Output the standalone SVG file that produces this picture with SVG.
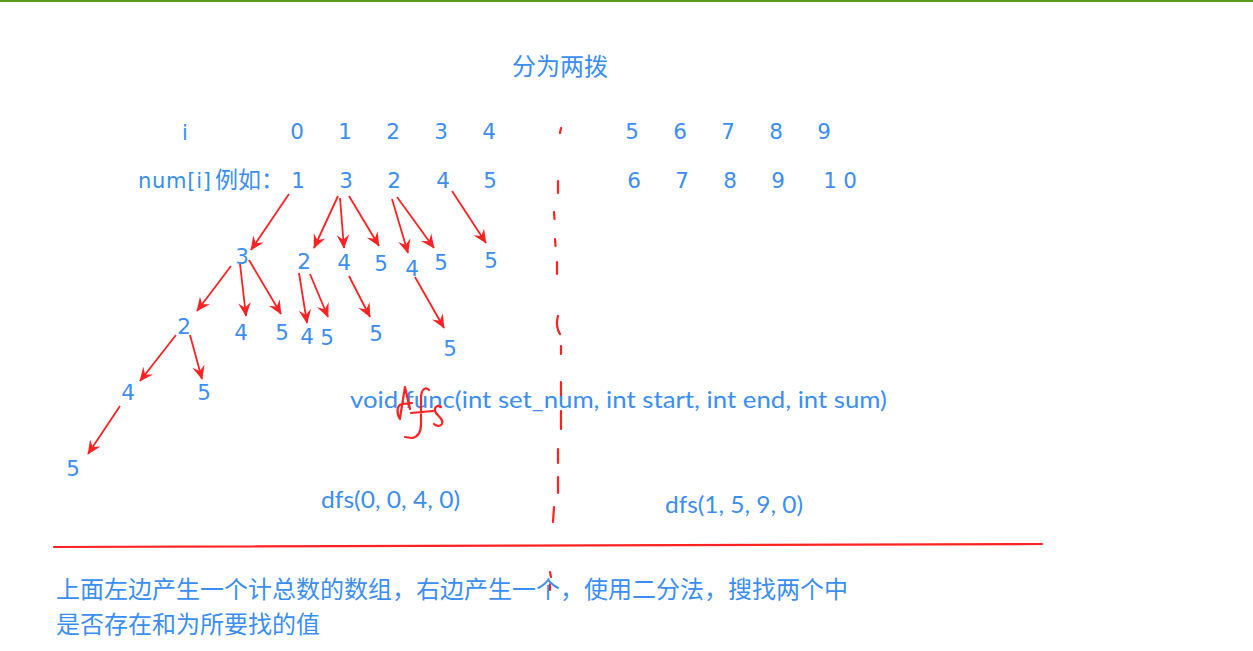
<svg xmlns="http://www.w3.org/2000/svg" width="1253" height="651" viewBox="0 0 1253 651">
<style>
.t{fill:#3a8ef6;font-family:"DejaVu Sans","Noto Sans CJK SC",sans-serif;font-size:21px}
.n{fill:#3a8ef6;font-family:"DejaVu Sans",sans-serif;font-size:21.5px;text-anchor:middle}
.c{fill:#3a8ef6;font-family:"Noto Sans CJK SC",sans-serif;font-size:24px}
.l{fill:#3a8ef6;font-family:Lato,"Noto Sans",sans-serif;font-size:24px}
.a{stroke:#ff2222;stroke-width:1.8;fill:none;marker-end:url(#ah)}
.r{stroke:#ff2222;stroke-width:2.2;fill:none;stroke-linecap:round;stroke-linejoin:round}
</style>
<defs>
<marker id="ah" viewBox="0 0 10 10" refX="9.5" refY="5" markerWidth="14" markerHeight="14" markerUnits="userSpaceOnUse" orient="auto">
<path d="M0,0.5 L10,5 L0,9.5 L3.5,5 z" fill="#ff2222"/>
</marker>
</defs>
<rect width="1253" height="651" fill="#ffffff"/>
<rect x="0" y="0" width="1253" height="2" fill="#5b9a1a"/>

<g id="title"><text class="c" x="512" y="75">分为两拨</text></g>

<g id="row-i">
<text class="t" x="182" y="140">i</text>
<text class="n" x="297" y="139">0</text>
<text class="n" x="345" y="139">1</text>
<text class="n" x="393" y="139">2</text>
<text class="n" x="441" y="139">3</text>
<text class="n" x="489" y="139">4</text>
<text class="n" x="632" y="139">5</text>
<text class="n" x="680" y="139">6</text>
<text class="n" x="728" y="139">7</text>
<text class="n" x="776" y="139">8</text>
<text class="n" x="824" y="139">9</text>
</g>

<g id="row-num">
<text class="t" x="138" y="188" textLength="73">num[i]</text>
<text class="c" x="215" y="188" style="font-size:23px">例如：</text>
<text class="n" x="298" y="188">1</text>
<text class="n" x="346" y="188">3</text>
<text class="n" x="394" y="188">2</text>
<text class="n" x="443" y="188">4</text>
<text class="n" x="490" y="188">5</text>
<text class="n" x="634" y="188">6</text>
<text class="n" x="682" y="188">7</text>
<text class="n" x="730" y="188">8</text>
<text class="n" x="778" y="188">9</text>
<text class="n" x="830" y="188">1</text>
<text class="n" x="850" y="188">0</text>
</g>

<g id="tree-nodes">
<g id="n3a"><text class="n" x="242" y="264">3</text></g>
<g id="n2a"><text class="n" x="304" y="269">2</text></g>
<g id="n4a"><text class="n" x="344" y="270">4</text></g>
<g id="n5a"><text class="n" x="381" y="271">5</text></g>
<g id="n4b"><text class="n" x="412" y="276">4</text></g>
<g id="n5b"><text class="n" x="441" y="270">5</text></g>
<g id="n5c"><text class="n" x="491" y="268">5</text></g>
<g id="n2b"><text class="n" x="184" y="334">2</text></g>
<g id="n4c"><text class="n" x="241" y="340">4</text></g>
<g id="n5d"><text class="n" x="282" y="340">5</text></g>
<g id="n4d"><text class="n" x="307" y="344">4</text></g>
<g id="n5e"><text class="n" x="327" y="345">5</text></g>
<g id="n5f"><text class="n" x="376" y="341">5</text></g>
<g id="n5g"><text class="n" x="450" y="356">5</text></g>
<g id="n4e"><text class="n" x="128" y="400">4</text></g>
<g id="n5h"><text class="n" x="204" y="400">5</text></g>
<g id="n5i"><text class="n" x="73" y="476">5</text></g>
</g>

<g id="connectors">
<path class="a" d="M289,194 L251,250"/>
<path class="a" d="M231,266 L197,311"/>
<path class="a" d="M240,264 L246,316"/>
<path class="a" d="M249,260 L281,314"/>
<path class="a" d="M176,335 L140,381"/>
<path class="a" d="M190,335 L202,379"/>
<path class="a" d="M120,406 L88,454"/>
<path class="a" d="M338,196 L314,248"/>
<path class="a" d="M340,198 L344,248"/>
<path class="a" d="M349,196 L379,246"/>
<path class="a" d="M392,199 L408,253"/>
<path class="a" d="M397,197 L434,248"/>
<path class="a" d="M452,191 L486,243"/>
<path class="a" d="M299,273 L307,323"/>
<path class="a" d="M310,274 L328,317"/>
<path class="a" d="M349,276 L370,317"/>
<path class="a" d="M415,277 L444,328"/>
</g>

<g id="divider">
<path class="r" d="M561,128 L560,133 M558,181 L558,193 M554,212 L554.5,219 M555,239 L555.5,246 M557,262 L557,274 M558,316 C556,322 557,330 560,334 M561,346 L561,354 M561,382 L561,398 M561,411 L561,429 M558,449 L558,463 M558,477 L558,493 M554,507 L553,522 M550,572 L551,577 M550,584 L550,590"/>
<path class="r" d="M54,547 L1042,544"/>
</g>

<g id="signature">
<text class="l" x="350" y="408" textLength="537" lengthAdjust="spacingAndGlyphs">void func(int set_num, int start, int end, int sum)</text>
<path class="r" d="M400,419 C396,413 397,405 402,404 L412,403 M400,418 L405,387 L410,409 M429,390 C425,386 421,390 421,398 L421,424 C421,432 418,437 412,438 L405,437 M411,413 L433,411 M441,407 C437,404 433,408 436,413 C439,417 444,420 442,424 C440,427 436,426 434,424"/>
</g>

<g id="calls">
<text class="l" x="321" y="508" textLength="139" lengthAdjust="spacingAndGlyphs">dfs(0, 0, 4, 0)</text>
<text class="l" x="665" y="513" textLength="138" lengthAdjust="spacingAndGlyphs">dfs(1, 5, 9, 0)</text>
</g>

<g id="note">
<text class="c" x="56" y="598">上面左边产生一个计总数的数组，右边产生一个，使用二分法，搜找两个中</text>
<text class="c" x="56" y="633">是否存在和为所要找的值</text>
</g>
</svg>
